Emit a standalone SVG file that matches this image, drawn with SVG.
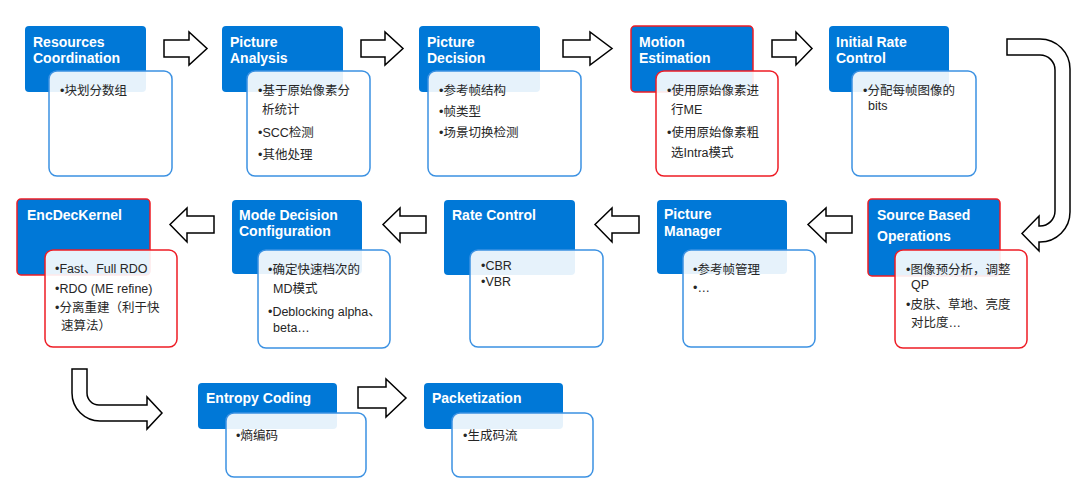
<svg xmlns="http://www.w3.org/2000/svg" width="1080" height="484" viewBox="0 0 1080 484">
<style>
.hd{fill:#0078d7;}
.hdr{fill:#0078d7;stroke:#ee1c25;stroke-width:1.5;}
.bd{fill:#ffffff;fill-opacity:0.9;stroke:#3b91e2;stroke-width:1.5;}
.bdr{fill:#ffffff;fill-opacity:0.9;stroke:#ee1c25;stroke-width:1.5;}
.t{font-family:"Liberation Sans","Noto Sans CJK SC",sans-serif;font-size:14px;font-weight:bold;fill:#ffffff;}
.b{font-family:"Liberation Sans","Noto Sans CJK SC",sans-serif;font-size:12.5px;fill:#262626;}
.ar{fill:#ffffff;stroke:#000000;stroke-width:1.5;stroke-linejoin:miter;}
</style>
<rect width="1080" height="484" fill="#ffffff"/>

<g id="connectors">
<polygon class="ar" points="164,40 189,40 189,32 207,48.5 189,65 189,57 164,57"/>
<polygon class="ar" points="361,40 385,40 385,32 403,48.5 385,65 385,57 361,57"/>
<polygon class="ar" points="563,40 590,40 590,32 612,48.5 590,65 590,57 563,57"/>
<polygon class="ar" points="772,40 796,40 796,32 812,48.5 796,65 796,57 772,57"/>
<path class="ar" d="M1007,39 L1040,39 A30,30 0 0 1 1070,69 L1070,212 A30,30 0 0 1 1040,242 L1039,242 L1039,251 L1022,233.5 L1039,216 L1039,226 L1040,226 A15,15 0 0 0 1055,211 L1055,70 A15,15 0 0 0 1040,55 L1007,55 Z"/>
<polygon class="ar" points="852,216 826,216 826,208 808,224.5 826,242 826,233 852,233"/>
<polygon class="ar" points="639,216 612,216 612,208 595,224.5 612,242 612,233 639,233"/>
<polygon class="ar" points="426,216 400,216 400,208 383,224.5 400,242 400,233 426,233"/>
<polygon class="ar" points="214,216 187,216 187,208 170,224.5 187,242 187,233 214,233"/>
<path class="ar" d="M72,369 L87,369 L87,393 A12,12 0 0 0 99,405 L147,405 L147,397 L162,413 L147,429 L147,421 L100,421 A28,28 0 0 1 72,393 Z"/>
<polygon class="ar" points="358,387 386,387 386,379 406,398 386,417 386,408 358,408"/>
</g>

<g id="resources-coordination">
<rect class="hd" x="25" y="26" width="121" height="66" rx="4"/>
<text class="t" x="33" y="47">Resources</text>
<text class="t" x="33" y="63">Coordination</text>
<rect class="bd" x="49" y="71" width="123" height="105" rx="8"/>
<text class="b" x="60" y="95">•块划分数组</text>
</g>

<g id="picture-analysis">
<rect class="hd" x="222" y="26" width="121" height="66" rx="4"/>
<text class="t" x="230" y="47">Picture</text>
<text class="t" x="230" y="63">Analysis</text>
<rect class="bd" x="247" y="71" width="123" height="105" rx="8"/>
<text class="b" x="258" y="95">•基于原始像素分</text>
<text class="b" x="262" y="114">析统计</text>
<text class="b" x="258" y="137">•SCC检测</text>
<text class="b" x="258" y="159">•其他处理</text>
</g>

<g id="picture-decision">
<rect class="hd" x="419" y="26" width="121" height="66" rx="4"/>
<text class="t" x="427" y="47">Picture</text>
<text class="t" x="427" y="63">Decision</text>
<rect class="bd" x="428" y="71" width="153" height="105" rx="8"/>
<text class="b" x="439" y="95">•参考帧结构</text>
<text class="b" x="439" y="116">•帧类型</text>
<text class="b" x="439" y="137">•场景切换检测</text>
</g>

<g id="motion-estimation">
<rect class="hdr" x="631" y="26" width="122" height="66" rx="4"/>
<text class="t" x="639" y="47">Motion</text>
<text class="t" x="639" y="63">Estimation</text>
<rect class="bdr" x="656" y="71" width="122" height="105" rx="8"/>
<text class="b" x="667" y="95">•使用原始像素进</text>
<text class="b" x="671" y="114">行ME</text>
<text class="b" x="667" y="137">•使用原始像素粗</text>
<text class="b" x="671" y="157">选Intra模式</text>
</g>

<g id="initial-rate-control">
<rect class="hd" x="829" y="26" width="120" height="66" rx="4"/>
<text class="t" x="836" y="47">Initial Rate</text>
<text class="t" x="836" y="63">Control</text>
<rect class="bd" x="852" y="71" width="124" height="105" rx="8"/>
<text class="b" x="863" y="95">•分配每帧图像的</text>
<text class="b" x="868" y="110">bits</text>
</g>

<g id="source-based-operations">
<rect class="hdr" x="868" y="199" width="132" height="77" rx="4"/>
<text class="t" x="877" y="220">Source Based</text>
<text class="t" x="877" y="241">Operations</text>
<rect class="bdr" x="895" y="250" width="132" height="98" rx="8"/>
<text class="b" x="906" y="274">•图像预分析，调整</text>
<text class="b" x="911" y="289">QP</text>
<text class="b" x="906" y="309">•皮肤、草地、亮度</text>
<text class="b" x="911" y="327">对比度…</text>
</g>

<g id="picture-manager">
<rect class="hd" x="657" y="200" width="130" height="74" rx="4"/>
<text class="t" x="664" y="219">Picture</text>
<text class="t" x="664" y="236">Manager</text>
<rect class="bd" x="683" y="250" width="132" height="97" rx="8"/>
<text class="b" x="693" y="274">•参考帧管理</text>
<text class="b" x="693" y="292">•…</text>
</g>

<g id="rate-control">
<rect class="hd" x="444" y="200" width="131" height="75" rx="4"/>
<text class="t" x="452" y="220">Rate Control</text>
<rect class="bd" x="470" y="250" width="133" height="97" rx="8"/>
<text class="b" x="481" y="270">•CBR</text>
<text class="b" x="481" y="286">•VBR</text>
</g>

<g id="mode-decision-configuration">
<rect class="hd" x="232" y="200" width="130" height="74" rx="4"/>
<text class="t" x="239" y="220">Mode Decision</text>
<text class="t" x="239" y="236">Configuration</text>
<rect class="bd" x="258" y="250" width="132" height="98" rx="8"/>
<text class="b" x="268" y="274">•确定快速档次的</text>
<text class="b" x="273" y="293">MD模式</text>
<text class="b" x="268" y="316">•Deblocking alpha、</text>
<text class="b" x="273" y="332">beta…</text>
</g>

<g id="encdeckernel">
<rect class="hdr" x="17" y="199" width="133" height="76" rx="4"/>
<text class="t" x="27" y="220">EncDecKernel</text>
<rect class="bdr" x="45" y="250" width="132" height="97" rx="8"/>
<text class="b" x="55" y="273">•Fast、Full RDO</text>
<text class="b" x="55" y="293">•RDO (ME refine)</text>
<text class="b" x="55" y="312">•分离重建（利于快</text>
<text class="b" x="61" y="330">速算法）</text>
</g>

<g id="entropy-coding">
<rect class="hd" x="198" y="383" width="139" height="46" rx="4"/>
<text class="t" x="206" y="403">Entropy Coding</text>
<rect class="bd" x="226" y="413" width="140" height="64" rx="8"/>
<text class="b" x="236" y="440">•熵编码</text>
</g>

<g id="packetization">
<rect class="hd" x="424" y="383" width="139" height="46" rx="4"/>
<text class="t" x="432" y="403">Packetization</text>
<rect class="bd" x="452" y="413" width="141" height="64" rx="8"/>
<text class="b" x="463" y="440">•生成码流</text>
</g>
</svg>
